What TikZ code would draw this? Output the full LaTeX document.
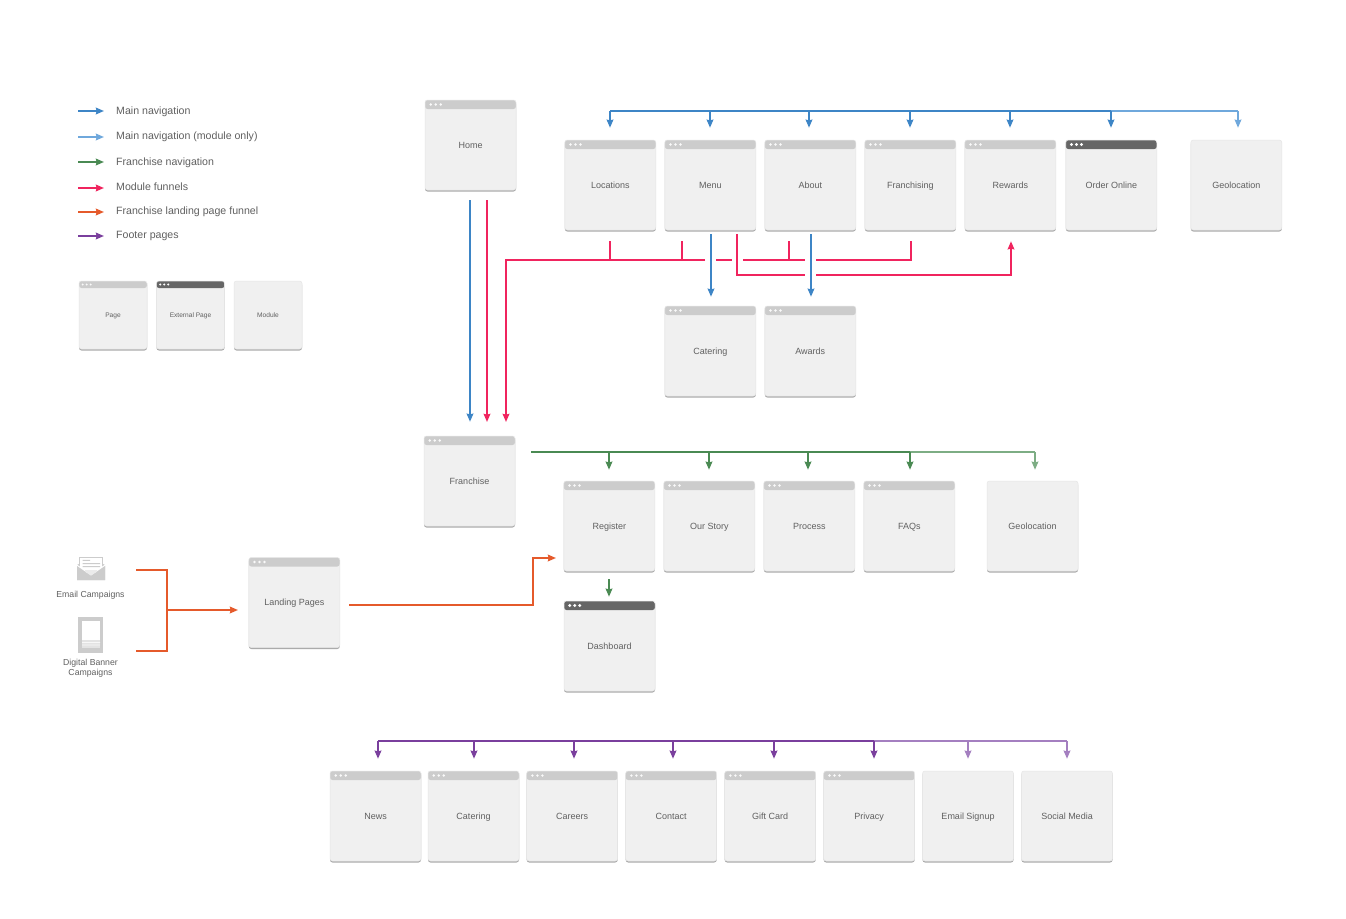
\documentclass[tikz,border=0pt]{standalone}
\usepackage{fontspec}
\setmainfont{Liberation Sans}
\usetikzlibrary{arrows.meta,calc}
\definecolor{boxfill}{HTML}{F0F0F0}
\definecolor{boxedge}{HTML}{E6E6E6}
\definecolor{boxshade}{HTML}{ABABAB}
\definecolor{barlight}{HTML}{CCCCCC}
\definecolor{bardark}{HTML}{666666}
\definecolor{labelc}{HTML}{606060}
\definecolor{navblue}{HTML}{3D85C6}
\definecolor{navlight}{HTML}{6FA8DC}
\definecolor{navgreen}{HTML}{4A8A53}
\definecolor{navgreenl}{HTML}{7DAD84}
\definecolor{navpink}{HTML}{F0245E}
\definecolor{navorange}{HTML}{E55A2B}
\definecolor{navpurple}{HTML}{7A3F9D}
\definecolor{navpurplel}{HTML}{A47FC0}
% colour, bar height, dot colour, dot radius, dot spacing, first dot offset
\newcommand{\winbar}[6]{%
  \fill[#1] (path picture bounding box.north west) rectangle ([yshift=-#2]path picture bounding box.north east);
  \foreach \k in {0,1,2} \fill[#3] ([xshift=#6+\k*#5,yshift=-#2*0.5]path picture bounding box.north west) circle (#4);
}
\tikzset{
  x=1pt,y=-1pt,
  boxbase/.style={rounded corners=2.5,fill=boxfill,draw=boxedge,line width=.5,inner sep=0,align=center,text=labelc,
    preaction={fill=boxshade,draw=none,transform canvas={yshift=-1.5}}},
  bigbox/.style={boxbase,minimum width=91,minimum height=90,text height=6.4,text depth=0,font=\fontsize{9}{11}\selectfont},
  smallbox/.style={boxbase,minimum width=68,minimum height=68,text height=4.8,text depth=0,font=\fontsize{6.6}{8}\selectfont},
  page/.style={bigbox,path picture={\winbar{barlight}{9}{white!90!barlight}{1.35}{5}{5.7}}},
  extpage/.style={bigbox,path picture={\winbar{bardark}{9}{white}{1.6}{5}{5.7}}},
  module/.style={bigbox},
  spage/.style={smallbox,path picture={\winbar{barlight}{7}{white!90!barlight}{1.05}{4}{3.7}}},
  sext/.style={smallbox,path picture={\winbar{bardark}{7}{white}{1.15}{4}{3.7}}},
  smod/.style={smallbox},
  legtext/.style={anchor=west,inner sep=0,text=labelc,text height=7.6,text depth=0,font=\fontsize{10.6}{13}\selectfont},
  captext/.style={inner sep=0,align=center,text=labelc,font=\fontsize{8.7}{10.5}\selectfont},
  conn/.style={line width=2.2,line join=miter},
  tip/.style={-{Stealth[length=8,width=6.5,inset=0.6]}},
  cblue/.style={conn,navblue},
  clight/.style={conn,navlight},
  cgreen/.style={conn,navgreen},
  cgreenl/.style={conn,navgreenl},
  cpink/.style={conn,navpink},
  corange/.style={conn,navorange},
  cpurple/.style={conn,navpurple},
  cpurplel/.style={conn,navpurplel},
}
\begin{document}
\begin{tikzpicture}
\useasboundingbox[fill=white] (0,0) rectangle (1346,918);
% legend
\foreach \n/\y/\t in {1/110.3/Main navigation,2/135.7/Main navigation (module only),3/161.3/Franchise navigation,4/186.7/Module funnels,5/210.7/Franchise landing page funnel,6/234.7/Footer pages}
  \node[legtext] (lt\n) at (116,\y) {\t};
\coordinate (la1) at (78,111);  \coordinate (lb1) at (104,111);
\coordinate (la2) at (78,137);  \coordinate (lb2) at (104,137);
\coordinate (la3) at (78,162);  \coordinate (lb3) at (104,162);
\coordinate (la4) at (78,188);  \coordinate (lb4) at (104,188);
\coordinate (la5) at (78,212);  \coordinate (lb5) at (104,212);
\coordinate (la6) at (78,236);  \coordinate (lb6) at (104,236);
\draw[cblue,tip] (la1) -- (lb1);
\draw[clight,tip] (la2) -- (lb2);
\draw[cgreen,tip] (la3) -- (lb3);
\draw[cpink,tip] (la4) -- (lb4);
\draw[corange,tip] (la5) -- (lb5);
\draw[cpurple,tip] (la6) -- (lb6);
\node[spage] (kpage) at (113,315) {Page};
\node[sext] (kext) at (190.5,315) {External Page};
\node[smod] (kmod) at (268,315) {Module};
% pages
\node[page] (home) at (470.5,145) {Home};
\node[page] (locations) at (610.3,185) {Locations};
\node[page] (menu) at (710.3,185) {Menu};
\node[page] (about) at (810.3,185) {About};
\node[page] (franchising) at (910.3,185) {Franchising};
\node[page] (rewards) at (1010.3,185) {Rewards};
\node[extpage] (order) at (1111.3,185) {Order Online};
\node[module] (geo1) at (1236.3,185) {Geolocation};
\node[page] (catering) at (710.3,351) {Catering};
\node[page] (awards) at (810.3,351) {Awards};
\node[page] (franchise) at (469.5,481) {Franchise};
\node[page] (register) at (609.3,526) {Register};
\node[page] (story) at (709.3,526) {Our Story};
\node[page] (process) at (809.3,526) {Process};
\node[page] (faqs) at (909.3,526) {FAQs};
\node[module] (geo2) at (1032.5,526) {Geolocation};
\node[extpage] (dash) at (609.5,646) {Dashboard};
\node[page] (landing) at (294.3,602.5) {Landing Pages};
\node[page] (news) at (375.5,816) {News};
\node[page] (fcatering) at (473.5,816) {Catering};
\node[page] (careers) at (572.2,816) {Careers};
\node[page] (contact) at (671.2,816) {Contact};
\node[page] (gift) at (770.2,816) {Gift Card};
\node[page] (privacy) at (869.2,816) {Privacy};
\node[module] (signup) at (968,816) {Email Signup};
\node[module] (social) at (1067,816) {Social Media};
% campaign icons
\node[inner sep=0,minimum width=28,minimum height=23] (email) at (91,568.5) {};
\fill[barlight] (77,565) -- (91,557) -- (105,565) -- (105,580) -- (77,580) -- cycle;
\draw[barlight,fill=white,line width=1] (79.5,557) rectangle (102.5,573);
\fill[barlight] (82.5,559.8) rectangle (90,560.8) (82.5,563) rectangle (100,564) (82.5,566) rectangle (100,567);
\fill[white] (76.5,564.3) -- (91,573.8) -- (105.5,564.3) -- (105.5,566) -- (91,575.6) -- (76.5,566) -- cycle;
\fill[barlight] (77,566) -- (91,575.6) -- (105,566) -- (105,580) -- (77,580) -- cycle;
\fill[white!60!barlight] (85,571.7) -- (91,575.6) -- (97,571.7) -- (97,570) -- (85,570) -- cycle;
\node[inner sep=0,minimum width=25,minimum height=36] (banner) at (90.5,635) {};
\fill[barlight] (banner.south west) rectangle (banner.north east);
\fill[white] (82,621) rectangle (100,640);
\fill[barlight!55] (82,640) rectangle (100,648);
\fill[white!85!barlight] (82,642) rectangle (100,642.8) (82,644.5) rectangle (100,645.3);
\node[captext] (emailcap) at (90.5,594.8) {Email Campaigns};
\node[captext] (bannercap) at (90.5,668.2) {Digital Banner\\Campaigns};
% main navigation
\coordinate (mnstart) at (610,111);
\coordinate (mnend) at (1111,111);
\coordinate (mnlight) at (1238,111);
\draw[clight] (mnend) -- (mnlight);
\draw[clight,tip,shorten >=12] (mnlight) -- (mnlight |- geo1.north);
\draw[cblue] (mnstart) -- (mnend);
\foreach \n/\s in {locations/-0.3,menu/-0.3,about/-1.3,franchising/-0.3,rewards/-0.3,order/-0.3}
  \draw[cblue,tip,shorten >=12] ([xshift=\s]\n.north |- mnstart) -- ([xshift=\s]\n.north);
% funnels from home to franchise
\coordinate (pinktop) at (487,200);
\coordinate (pinkbot) at (487,436);
\draw[cblue,tip,shorten <=10,shorten >=14] ([xshift=-0.5]home.south) -- ([xshift=-0.5]home.south |- franchise.north);
\draw[cpink,tip,shorten >=14] (pinktop) -- (pinkbot);
% module funnel lines
\coordinate (fcorner) at (506,260);
\coordinate (fdown) at (506,436);
\coordinate (g1a) at (705,260);
\coordinate (g2a) at (716,260);
\coordinate (g2b) at (732,260);
\coordinate (g3a) at (743,260);
\coordinate (g3b) at (805,260);
\coordinate (g4a) at (816,260);
\coordinate (g4b) at (911,260);
\coordinate (s4) at (911,241);
\coordinate (s1) at (610,241); \coordinate (j1) at (610,260);
\coordinate (s2) at (682,241); \coordinate (j2) at (682,260);
\coordinate (s3) at (789,241); \coordinate (j3) at (789,260);
\draw[cpink,tip,shorten >=14] (g1a) -- (fcorner) -- (fdown);
\draw[cpink] (g2a) -- (g2b);
\draw[cpink] (g3a) -- (g3b);
\draw[cpink] (g4a) -- (g4b) -- (s4);
\draw[cpink] (s1) -- (j1);
\draw[cpink] (s2) -- (j2);
\draw[cpink] (s3) -- (j3);
\coordinate (rtop) at (737,234);
\coordinate (rcorner) at (737,275);
\coordinate (rgap) at (805,275);
\coordinate (rgapb) at (816,275);
\coordinate (rright) at (1011,275);
\draw[cpink] (rtop) -- (rcorner) -- (rgap);
\draw[cpink,tip,shorten >=11] (rgapb) -- (rright) -- (rright |- rewards.south);
\draw[cblue,tip,shorten <=4,shorten >=9] ([xshift=0.7]menu.south) -- ([xshift=0.7]catering.north);
\draw[cblue,tip,shorten <=4,shorten >=9] ([xshift=0.7]about.south) -- ([xshift=0.7]awards.north);
% franchise navigation
\coordinate (fnstart) at (531,452);
\coordinate (fnend) at (910,452);
\coordinate (fnlight) at (1035,452);
\draw[cgreenl] (fnend) -- (fnlight);
\draw[cgreenl,tip,shorten >=11] (fnlight) -- (fnlight |- geo2.north);
\draw[cgreen] (fnstart) -- (fnend);
\foreach \n/\s in {register/-0.3,story/-0.3,process/-1.3,faqs/0.7}
  \draw[cgreen,tip,shorten >=11] ([xshift=\s]\n.north |- fnstart) -- ([xshift=\s]\n.north);
\draw[cgreen,tip,shorten <=8,shorten >=4] ([xshift=-0.3]register.south) -- ([xshift=-0.3]register.south |- dash.north);
% landing page funnel
\coordinate (oj1) at (167,570);
\coordinate (oj2) at (167,651);
\coordinate (oj3) at (167,610);
\coordinate (ostart1) at (136,570);
\coordinate (ostart2) at (136,651);
\coordinate (oend) at (238,610);
\draw[corange] (ostart1) -- (oj1) -- (oj2) -- (ostart2);
\draw[corange,tip] (oj3) -- (oend);
\coordinate (lstart) at (349,605);
\coordinate (lcorner) at (533,605);
\coordinate (ltop) at (533,558);
\coordinate (lend) at (556,558);
\draw[corange,tip] (lstart) -- (lcorner) -- (ltop) -- (lend);
% footer
\coordinate (ftstart) at (378,741);
\coordinate (ftmid) at (874,741);
\coordinate (ftend) at (1067,741);
\draw[cpurplel] (ftmid) -- (ftend);
\foreach \n/\s in {signup/0,social/0}
  \draw[cpurplel,tip,shorten >=12] ([xshift=\s]\n.north |- ftstart) -- ([xshift=\s]\n.north);
\draw[cpurple] (ftstart) -- (ftmid);
\foreach \n/\s in {news/2.5,fcatering/0.5,careers/1.8,contact/1.8,gift/3.8,privacy/4.8}
  \draw[cpurple,tip,shorten >=12] ([xshift=\s]\n.north |- ftstart) -- ([xshift=\s]\n.north);
\end{tikzpicture}
\end{document}
